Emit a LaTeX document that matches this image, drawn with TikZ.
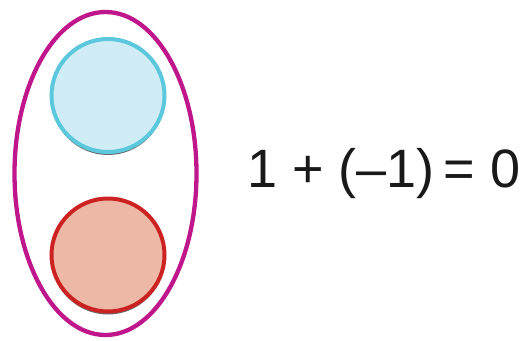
\documentclass[tikz,border=0pt]{standalone}
\usepackage{fontspec}
\setmainfont{Liberation Sans}
\usetikzlibrary{shapes.geometric}
\definecolor{mag}{HTML}{C0168C}
\definecolor{bluestroke}{HTML}{5BC8DE}
\definecolor{bluefill}{HTML}{D0ECF4}
\definecolor{redstroke}{HTML}{CC2222}
\definecolor{redfill}{HTML}{EDB8A5}
\definecolor{shadowc}{HTML}{666A6C}
\begin{document}
\begin{tikzpicture}[x=1pt,y=-1pt,
  ball/.style={circle,minimum size=113pt,inner sep=0pt,line width=4pt},
  shadowball/.style={circle,minimum size=113pt,inner sep=0pt,fill=shadowc}]
\useasboundingbox (0,0) rectangle (522,340);
\node[ellipse,draw=mag,line width=4.3pt,minimum width=182pt,minimum height=323pt,inner sep=0pt] (set) at (105.5,173.5) {};
\node[shadowball] (s1) at (108,98.5) {};
\node[ball,draw=bluestroke,fill=bluefill] (pos) at (108,95.5) {};
\node[shadowball] (s2) at (108,258) {};
\node[ball,draw=redstroke,fill=redfill] (neg) at (108,255) {};
\node[anchor=west,inner sep=0pt,font=\fontsize{54}{60}\selectfont,text=black!90] (eq) at (247,174) {1 + (–1)\,= 0};
\end{tikzpicture}
\end{document}
